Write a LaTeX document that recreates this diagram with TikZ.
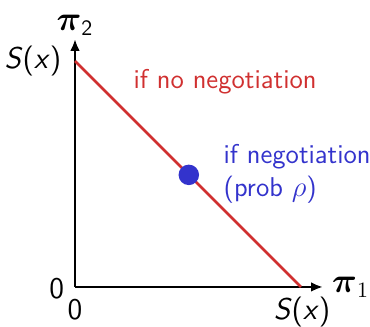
\documentclass[tikz,border=0pt]{standalone}
\usepackage{xcolor}
\usepackage{tikz}
\usepackage{amsmath}
\usepackage{amssymb}
\usetikzlibrary{arrows.meta, positioning, calc}
\definecolor{frontierred}{RGB}{208, 48, 48}
\definecolor{dealblue}{RGB}{51, 51, 204}

\begin{document}
\begin{tikzpicture}[
    axis/.style={-{Latex[length=2.1mm, width=1.7mm]}, line width=1.3pt},
    frontier/.style={frontierred, line width=1.3pt},
    lbl/.style={font=\fontsize{15}{18}\selectfont\sffamily, inner sep=1pt},
    note/.style={font=\fontsize{13.6}{16.5}\selectfont\sffamily, inner sep=1pt},
    dealdot/.style={circle, fill=dealblue, minimum size=0.36cm, inner sep=0pt},
]
\useasboundingbox (-1.318,-0.703) rectangle (5.184,5.043);

% Axes
\coordinate (o) at (0,0);
\coordinate (xend) at (4.358,0);
\coordinate (yend) at (0,4.358);
\draw[axis] (o) -- (xend);
\draw[axis] (o) -- (yend);
\node[lbl, right=0.12cm of xend, font=\fontsize{16}{18}\selectfont] (pi1) {$\boldsymbol{\pi}_1$};
\node[lbl, above=0.02cm of yend, font=\fontsize{16}{18}\selectfont] (pi2) {$\boldsymbol{\pi}_{\mathsf{2}}$};
\node[lbl] (zx) at (0,-0.4) {0};
\node[lbl] (zy) at (-0.32,-0.03) {0};

% Frontier
\coordinate (a) at (0,3.97);
\coordinate (b) at (3.97,0);
\draw[frontier] (a) -- (b);
\node[lbl, left=0.2cm of a] (sy) {\textit{S}(\textit{x})};
\node[lbl] (sx) at (3.99,-0.44) {\textit{S}(\textit{x})};
\node[note, anchor=west, text=frontierred] (noneg) at (0.99,3.60) {if no negotiation};

% Negotiated outcome
\node[dealdot] (d) at (2.0,1.97) {};
\node[note, anchor=west, align=left, text=dealblue] (neg) at (2.57,1.995)
    {if negotiation\\(prob $\rho$)};

\end{tikzpicture}
\end{document}
